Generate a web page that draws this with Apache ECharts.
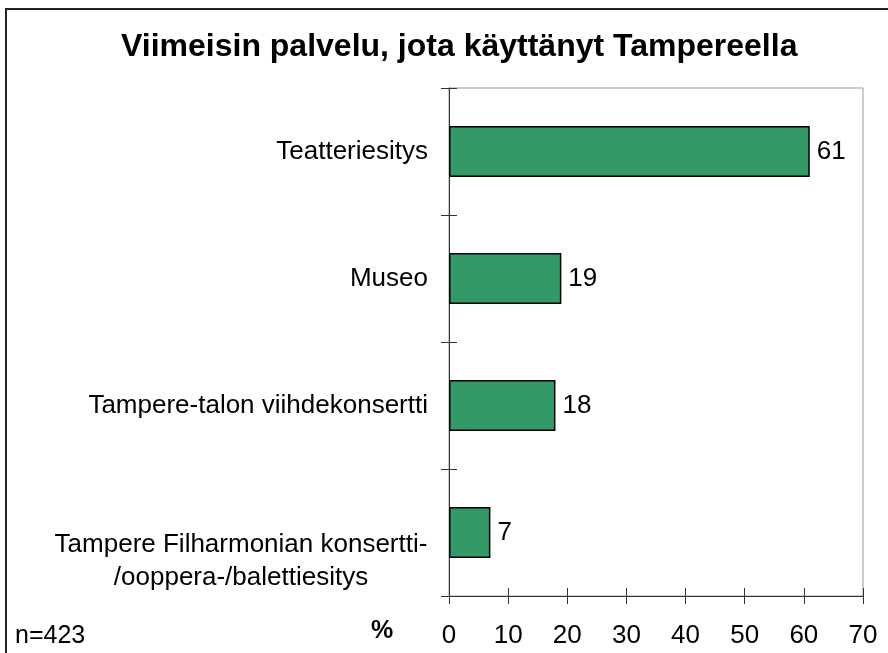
<!DOCTYPE html>
<html>
<head>
<meta charset="utf-8">
<script src="https://cdn.jsdelivr.net/npm/echarts@6/dist/echarts.min.js"></script>
<style>
  html, body { margin: 0; padding: 0; background: #fff; }
  #chart { width: 888px; height: 653px; }
</style>
</head>
<body>
<div id="chart"></div>
<script>
// kategoriat ylhäältä alas
var categories = [
  "Teatteriesitys",
  "Museo",
  "Tampere-talon viihdekonsertti",
  "Tampere Filharmonian konsertti-\n/ooppera-/balettiesitys",
];
var values = [61, 19, 18, 7];
var xTicks = [0, 10, 20, 30, 40, 50, 60, 70];

var font = "'Liberation Sans', Arial, sans-serif";
var myChart = echarts.init(document.getElementById("chart"));

myChart.setOption({
  backgroundColor: "#fff",
  textStyle: { fontFamily: font },
  title: {
    text: "Viimeisin palvelu, jota käyttänyt Tampereella",
    left: 116,
    top: 26,
    textStyle: {
      fontFamily: font,
      fontSize: 32,
      fontWeight: "bold",
      color: "#000",
    },
  },
  grid: {
    left: 449,
    top: 88,
    right: 25,
    bottom: 57,
    show: true,
    borderColor: "#999",
    borderWidth: 1,
    backgroundColor: "transparent",
  },
  xAxis: [
    {
      type: "value",
      min: xTicks[0],
      max: xTicks[xTicks.length - 1],
      interval: 10,
      splitLine: { show: false },
      axisLine: { show: true, lineStyle: { color: "#333", width: 1 } },
      axisTick: { show: true, inside: true, length: 8, lineStyle: { color: "#333" } },
      axisLabel: {
        margin: 27,
        fontSize: 26,
        color: "#000",
        fontFamily: font,
      },
    },
    {
      // alaspäin menevät tikit
      type: "value",
      position: "bottom",
      min: xTicks[0],
      max: xTicks[xTicks.length - 1],
      interval: 10,
      splitLine: { show: false },
      axisLine: { show: false },
      axisTick: { show: true, inside: false, length: 8, lineStyle: { color: "#333" } },
      axisLabel: { show: false },
    },
  ],
  yAxis: [
    {
      type: "category",
      inverse: true,
      data: categories,
      axisLine: { show: true, lineStyle: { color: "#333", width: 1 } },
      axisTick: { show: true, length: 8, lineStyle: { color: "#333" } },
      axisLabel: {
        margin: 21,
        fontSize: 26,
        color: "#000",
        fontFamily: font,
        lineHeight: 33,
        formatter: function (v) {
          if (v.indexOf("\n") >= 0) {
            // kaksirivinen nimi hieman alemmas, rivit keskitetty
            return "{gap| }\n" + v
              .split("\n")
              .map(function (s) { return "{c|" + s + "}"; })
              .join("\n");
          }
          return v;
        },
        rich: {
          gap: { lineHeight: 58, fontSize: 10 },
          c: {
            width: 374,
            align: "center",
            fontSize: 26,
            lineHeight: 33,
            color: "#000",
            fontFamily: font,
          },
        },
      },
    },
    {
      // oikealle menevät tikit
      type: "category",
      inverse: true,
      position: "left",
      data: categories,
      axisLine: { show: false },
      axisTick: { show: true, inside: true, length: 8, lineStyle: { color: "#333" } },
      axisLabel: { show: false },
    },
  ],
  graphic: [
    {
      type: "rect",
      shape: { x: 6, y: 9, width: 1000, height: 1000 },
      style: { fill: "none", stroke: "#222", lineWidth: 2 },
      silent: true,
    },
    {
      type: "text",
      left: 15,
      top: 624,
      style: { text: "n=423", fontSize: 25, fontFamily: font, fill: "#000" },
    },
    {
      type: "text",
      left: 371,
      top: 619,
      style: { text: "%", fontSize: 25, fontWeight: "bold", fontFamily: font, fill: "#000" },
    },
  ],
  series: [
    {
      name: "%",
      type: "bar",
      xAxisIndex: 0,
      yAxisIndex: 0,
      data: values,
      barCategoryGap: "60%",
      itemStyle: {
        color: "#339966",
        borderColor: "#000",
        borderWidth: 1.5,
      },
      label: {
        show: true,
        position: "right",
        distance: 7,
        fontSize: 26,
        color: "#000",
        fontFamily: font,
      },
      animation: false,
    },
  ],
});
</script>
</body>
</html>
